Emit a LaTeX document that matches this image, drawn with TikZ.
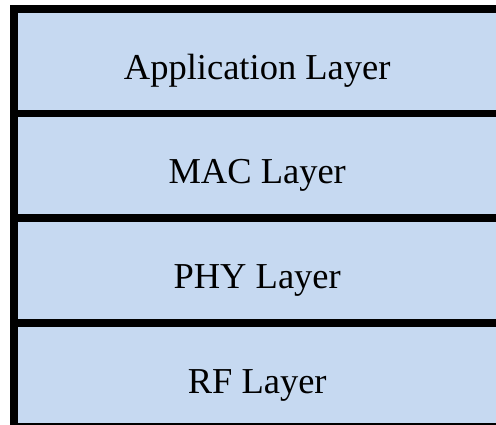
\documentclass[tikz,border=0pt]{standalone}
\usepackage{fontspec}
\setmainfont{Liberation Serif}
\definecolor{layerblue}{RGB}{198,217,241}
\begin{document}
\begin{tikzpicture}[x=1pt,y=-1pt,
  layerbox/.style={fill=layerblue,draw=none,anchor=north west,inner xsep=0pt,inner ysep=0pt,
    minimum width=478pt,text height=66pt,text depth=31pt,
    font=\fontsize{36.5}{40}\selectfont},
  frameline/.style={fill=black,draw=none}]
\useasboundingbox[fill=white] (0,0) rectangle (496,425);
\fill[frameline] (10,5) rectangle (18,425);
\fill[frameline] (10,5) rectangle (496,13);
\node[layerbox] (app) at (18,13) {Application Layer};
\fill[frameline] (10,110) rectangle (496,117);
\node[layerbox] (mac) at (18,117) {MAC Layer};
\fill[frameline] (10,214) rectangle (496,222);
\node[layerbox] (phy) at (18,222) {PHY Layer};
\fill[frameline] (10,319) rectangle (496,327);
\node[layerbox,text depth=30pt] (rf) at (18,327) {RF Layer};
\fill[frameline] (10,423) rectangle (496,425);
\end{tikzpicture}
\end{document}
